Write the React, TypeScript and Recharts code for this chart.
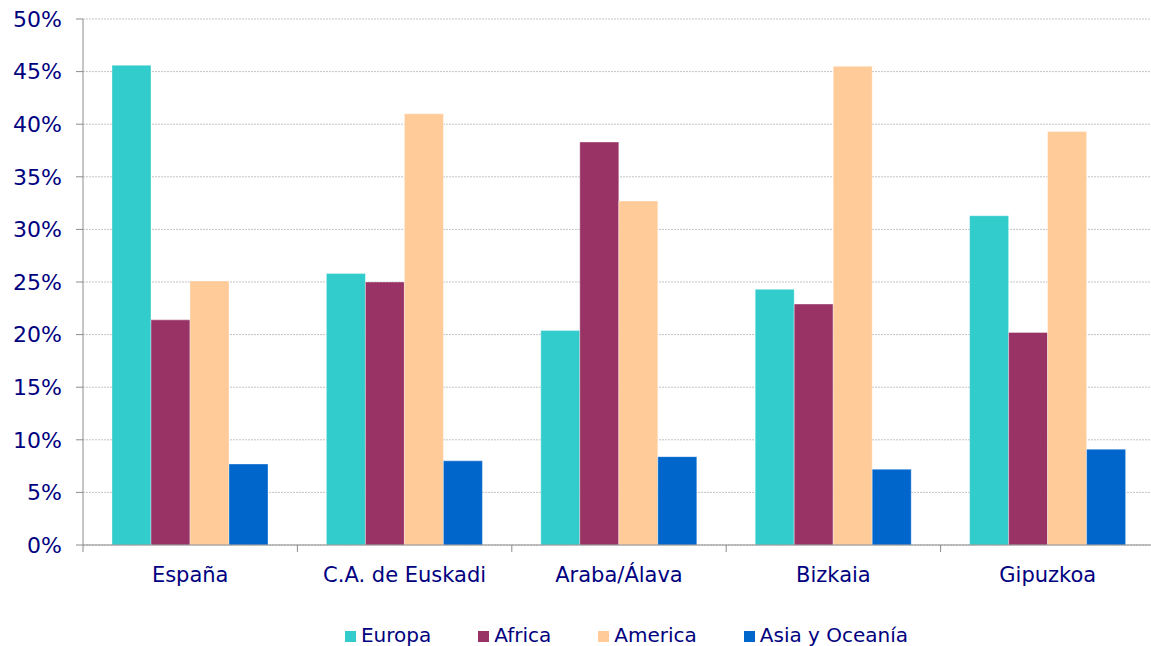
import { Bar, BarChart, CartesianGrid, Legend, XAxis, YAxis } from "recharts"

const REGIONS = ["España", "C.A. de Euskadi", "Araba/Álava", "Bizkaia", "Gipuzkoa"]
const EUROPA = [45.6, 25.8, 20.4, 24.3, 31.3]
const AFRICA = [21.4, 25.0, 38.3, 22.9, 20.2]
const AMERICA = [25.1, 41.0, 32.7, 45.5, 39.3]
const ASIA = [7.7, 8.0, 8.4, 7.2, 9.1]
const Y_TICKS = [0, 5, 10, 15, 20, 25, 30, 35, 40, 45, 50]

const SERIES = [
  { key: "europa", name: "Europa", color: "#33CCCC" },
  { key: "africa", name: "Africa", color: "#993366" },
  { key: "america", name: "America", color: "#FFCC99" },
  { key: "asia", name: "Asia y Oceanía", color: "#0066CC" },
]

const TEXT = "#000080"
const AXIS = "#8c8c8c"
const FONT = "'DejaVu Sans', Verdana, sans-serif"

const data = REGIONS.map((region, i) => ({
  region,
  europa: EUROPA[i],
  africa: AFRICA[i],
  america: AMERICA[i],
  asia: ASIA[i],
}))

function RegionTick(props: any) {
  const { x, y, payload } = props
  const edge = x - (payload.offset ?? 0)
  return (
    <g>
      <line x1={edge} y1={y} x2={edge} y2={y + 7} stroke={AXIS} strokeWidth={1} />
      <text x={x} y={y + 37} textAnchor="middle" fill={TEXT} fontSize={21} fontFamily={FONT}>
        {payload.value}
      </text>
    </g>
  )
}

function LegendRow() {
  return (
    <div
      style={{
        height: 24,
        display: "flex",
        justifyContent: "center",
        alignItems: "center",
        fontFamily: FONT,
        fontSize: 20,
        color: TEXT,
        lineHeight: "24px",
        paddingTop: 2,
        paddingLeft: 98,
        boxSizing: "border-box",
      }}
    >
      {SERIES.map((s, i) => (
        <div key={s.key} style={{ display: "flex", alignItems: "center", marginRight: i < SERIES.length - 1 ? 47 : 0 }}>
          <span style={{ width: 11, height: 11, background: s.color, marginRight: 5, marginTop: 3 }} />
          <span>{s.name}</span>
        </div>
      ))}
    </div>
  )
}

export default function App() {
  return (
    <div style={{ position: "absolute", left: 0, top: 0, background: "#fff" }}>
      <BarChart
        width={1151}
        height={646}
        data={data}
        margin={{ top: 19, right: -4, left: 0, bottom: 0 }}
        barCategoryGap={29}
        barGap={0}
      >
        <CartesianGrid vertical={false} stroke="#c4c4c4" strokeDasharray="2 1" />
        <XAxis
          dataKey="region"
          height={77}
          interval={0}
          tickLine={false}
          tickSize={0}
          tickMargin={0}
          axisLine={{ stroke: AXIS }}
          tick={<RegionTick />}
        />
        <YAxis
          width={83}
          domain={[0, 50]}
          ticks={Y_TICKS}
          interval={0}
          tickFormatter={(v) => `${v}%`}
          tickSize={7}
          tickMargin={14}
          axisLine={{ stroke: AXIS }}
          tickLine={{ stroke: AXIS }}
          tick={{ fill: TEXT, fontSize: 22, fontFamily: FONT }}
        />
        <Legend verticalAlign="bottom" height={24} content={<LegendRow />} />
        {SERIES.map((s) => (
          <Bar
            key={s.key}
            dataKey={s.key}
            name={s.name}
            fill={s.color}
            stroke="rgba(255,255,255,0.35)"
            strokeWidth={1}
            isAnimationActive={false}
          />
        ))}
      </BarChart>
    </div>
  )
}
